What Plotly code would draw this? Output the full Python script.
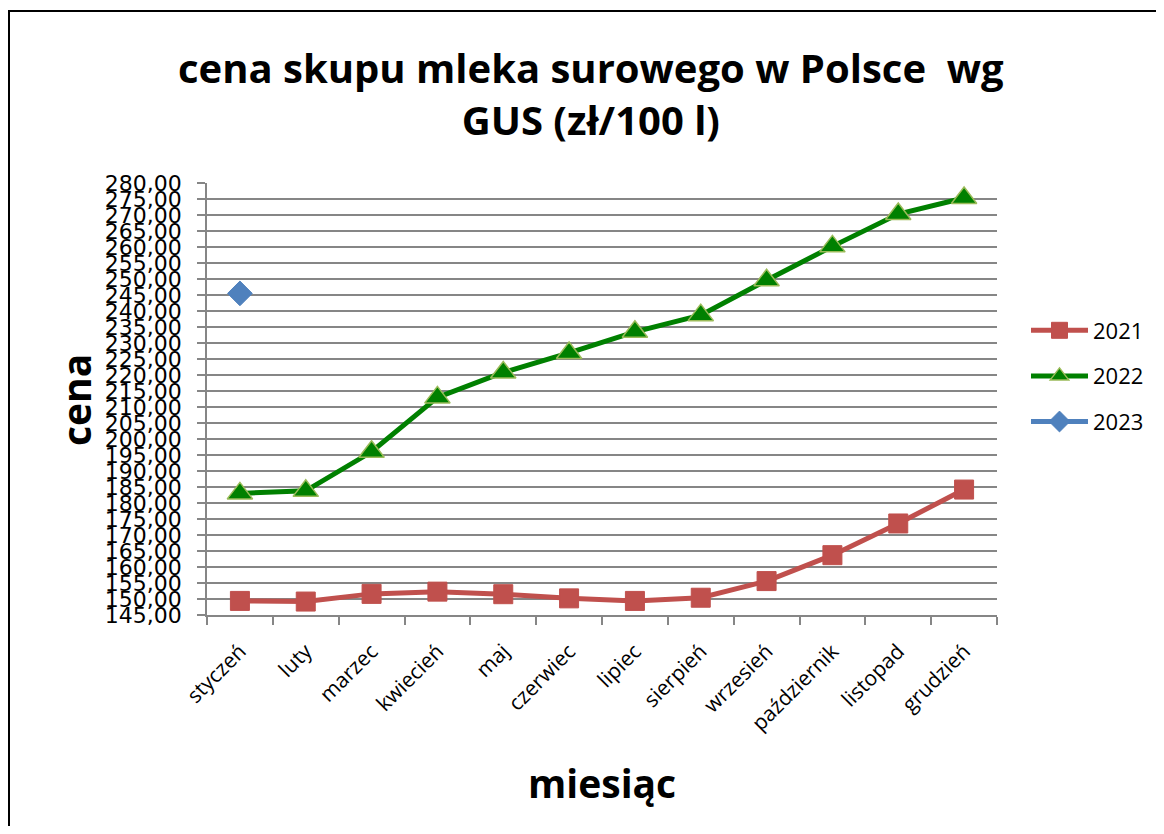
import plotly.graph_objects as go

months = ["styczeń", "luty", "marzec", "kwiecień", "maj", "czerwiec",
          "lipiec", "sierpień", "wrzesień", "październik", "listopad", "grudzień"]
v2021 = [149.4, 149.2, 151.6, 152.3, 151.5, 150.2, 149.4, 150.4, 155.6, 163.7, 173.6, 184.2]
v2022 = [183.0, 183.8, 196.0, 213.0, 220.8, 226.9, 233.5, 238.7, 249.6, 260.2, 270.3, 275.3]
v2023 = [245.5]
months2023 = months[:1]
ytick_vals = list(range(145, 281, 5))
ytick_text = [f"{v},00" for v in ytick_vals]

TFONT = "Open Sans"

# page body has an 8px margin; figure coordinates = page coordinates - 8
OFF = 8
PL, PR, PT, PB = 207 - OFF, 997 - OFF, 183 - OFF, 615 - OFF
W, H = 1148, 818
PW, PH = PR - PL, PB - PT


def px(x):
    return (x - OFF - PL) / PW


def py(y):
    return (PB - (y - OFF)) / PH


fig = go.Figure()
fig.add_trace(go.Scatter(
    x=months, y=v2021, name="2021", mode="lines+markers", legendgroup="a",
    line=dict(color="#C0504D", width=5),
    marker=dict(symbol="square", size=19, color="#C0504D", line=dict(color="#C0504D", width=1)),
))
fig.add_trace(go.Scatter(
    x=months, y=v2022, name="2022", mode="lines+markers", legendgroup="b",
    line=dict(color="#008000", width=5),
    marker=dict(symbol="triangle-up", size=22, color="#008000", line=dict(color="#9BBB59", width=1.5)),
))
fig.add_trace(go.Scatter(
    x=months2023, y=v2023, name="2023", mode="lines+markers", legendgroup="c",
    line=dict(color="#4F81BD", width=5),
    marker=dict(symbol="diamond", size=19, color="#4F81BD", line=dict(color="#4F81BD", width=1)),
))

fig.update_layout(
    width=W, height=H,
    margin=dict(l=PL, r=W - PR, t=PT, b=H - PB, autoexpand=False),
    paper_bgcolor="white", plot_bgcolor="white",
    showlegend=True,
    legend=dict(x=px(1026), y=py(376), xanchor="left", yanchor="middle",
                font=dict(family=TFONT, size=22, color="black"),
                tracegroupgap=14, itemwidth=57, bgcolor="rgba(0,0,0,0)"),
    xaxis=dict(type="category", categoryorder="array", categoryarray=months,
               range=[-0.5, 11.5], tickson="boundaries", ticks="outside", ticklen=8,
               tickcolor="#868686", tickwidth=1.5, showgrid=False,
               showline=True, linecolor="#868686", linewidth=1.5,
               ticklabelstandoff=14,
               tickangle=-45, tickfont=dict(family=TFONT, size=21, color="black")),
    yaxis=dict(range=[145, 280], tickvals=ytick_vals, ticktext=ytick_text,
               ticks="outside", ticklen=8, tickcolor="#868686", tickwidth=1.5,
               showgrid=True, gridcolor="#868686", gridwidth=1.5,
               showline=True, linecolor="#868686", linewidth=1.5,
               ticklabelstandoff=11,
               tickfont=dict(family="DejaVu Sans", size=22, color="black")),
    shapes=[dict(type="rect", xref="paper", yref="paper",
                 x0=px(9), x1=px(1200), y0=py(900), y1=py(11),
                 line=dict(color="black", width=2), fillcolor="rgba(0,0,0,0)")],
    annotations=[
        dict(text="cena skupu mleka surowego w Polsce  wg<br>GUS (zł/100 l)",
             xref="paper", yref="paper", x=px(591), y=py(93),
             xanchor="center", yanchor="middle", showarrow=False,
             font=dict(family=TFONT, size=40, color="black", weight="bold")),
        dict(text="cena", xref="paper", yref="paper", x=px(75), y=py(400),
             xanchor="center", yanchor="middle", showarrow=False, textangle=-90,
             font=dict(family=TFONT, size=39, color="black", weight="bold")),
        dict(text="miesiąc", xref="paper", yref="paper", x=px(602), y=py(782),
             xanchor="center", yanchor="middle", showarrow=False,
             font=dict(family=TFONT, size=39, color="black", weight="bold")),
    ],
)

fig.write_html("out.html")
